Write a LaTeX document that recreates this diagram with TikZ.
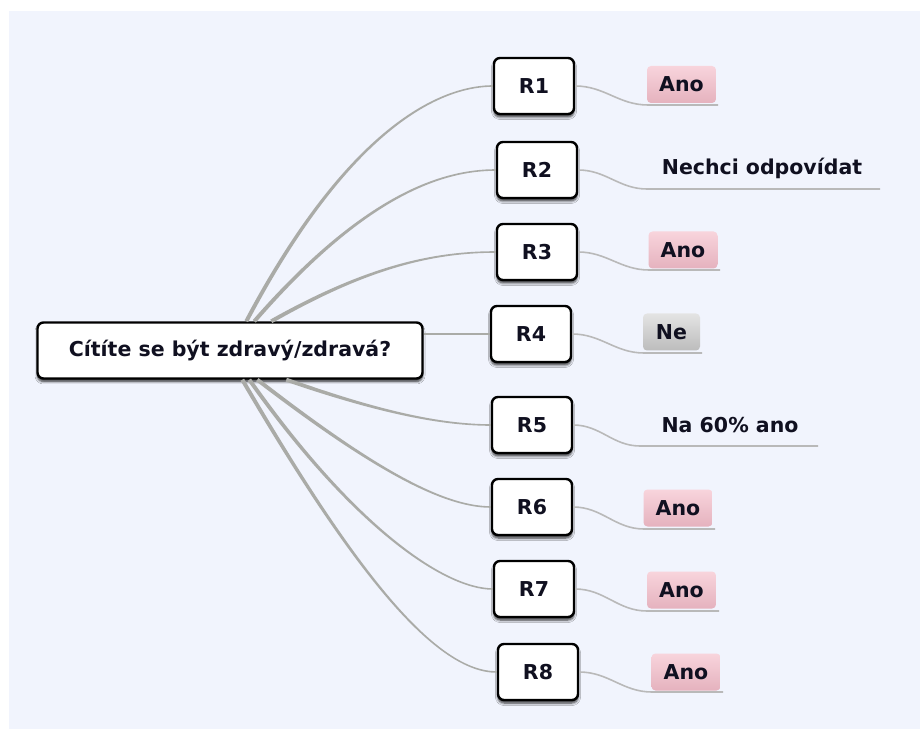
\documentclass[tikz,border=0pt]{standalone}
\usepackage{fontspec}
\setmainfont{DejaVu Sans}
\usetikzlibrary{calc,shadows.blur}

\definecolor{bgcol}{RGB}{241,244,253}
\definecolor{branchcol}{RGB}{170,171,167}
\definecolor{leafcol}{RGB}{185,185,185}
\definecolor{inkcol}{RGB}{16,16,32}
\definecolor{pinktop}{RGB}{248,212,220}
\definecolor{pinkbot}{RGB}{229,178,190}
\definecolor{greytop}{RGB}{228,228,228}
\definecolor{greybot}{RGB}{188,188,188}

\tikzset{
  labelfont/.style={font=\fontsize{20.5}{24}\selectfont\bfseries, text=inkcol},
  topicbox/.style={labelfont, draw=black, fill=white, line width=2.4pt,
    rounded corners=6pt, minimum height=56pt, inner sep=0pt,
    blur shadow={shadow xshift=0pt, shadow yshift=-3pt,
      shadow blur steps=6, shadow blur radius=2.5pt, shadow opacity=80}},
  rootbox/.style={topicbox, minimum width=385pt},
  rbox/.style={topicbox, minimum width=80pt},
  tagbox/.style={labelfont, rounded corners=4pt, minimum height=37pt, inner sep=0pt},
  anobox/.style={tagbox, top color=pinktop, bottom color=pinkbot, minimum width=69pt},
  nebox/.style={tagbox, top color=greytop, bottom color=greybot, minimum width=57pt},
  plainlabel/.style={labelfont},
  leaf/.style={draw=leafcol, line width=1.6pt},
  straightbranch/.style={draw=branchcol, line width=1.8pt},
  branchfill/.style={fill=branchcol},
}

% tapered branch: start coordinate, start angle, two control points, end node
\newcommand\branch[5]{%
  \fill[branchfill]
    ($(#1)+(#2+90:2)$) .. controls ($(#3)+(#2+90:1.5)$) and ($(#4)+(0,0.8)$) .. ($(#5.west)+(0,0.8)$)
    -- ($(#5.west)+(0,-0.8)$) .. controls ($(#4)+(0,-0.8)$) and ($(#3)+(#2-90:1.5)$) .. ($(#1)+(#2-90:2)$)
    -- cycle;}

\begin{document}
\begin{tikzpicture}[x=1pt,y=1pt]
\useasboundingbox (0,0) rectangle (920,729);
\fill[white] (0,0) rectangle (920,729);
\fill[bgcol] (9,0) rectangle (920,718);

% central topic
\node[rootbox] (root) at (230,378.5) {Cítíte se být zdravý/zdravá?};

% respondents
\node[rbox] (R1) at (534,643) {R1};
\node[rbox] (R2) at (537,559) {R2};
\node[rbox] (R3) at (537,477) {R3};
\node[rbox] (R4) at (531,395) {R4};
\node[rbox] (R5) at (532,304) {R5};
\node[rbox] (R6) at (532,222) {R6};
\node[rbox] (R7) at (534,140) {R7};
\node[rbox] (R8) at (538,57) {R8};

% answers
\node[anobox] (A1) at (681.5,644.5) {Ano};
\node[plainlabel] (A2) at (762,561) {Nechci odpovídat};
\node[anobox] (A3) at (683,479) {Ano};
\node[nebox] (A4) at (671.5,397) {Ne};
\node[plainlabel] (A5) at (730,304) {Na 60\% ano};
\node[anobox] (A6) at (678,221) {Ano};
\node[anobox] (A7) at (681.5,139) {Ano};
\node[anobox] (A8) at (686,57) {Ano};

% branch roots on the border of the central topic
\coordinate (s1) at ($(root.north west)+(210,0)$);
\coordinate (s2) at ($(root.north west)+(218,0)$);
\coordinate (s3) at ($(root.north west)+(235,0)$);
\coordinate (s4) at (root.east |- R4.west);
\coordinate (s5) at ($(root.south west)+(250,0)$);
\coordinate (s6) at ($(root.south west)+(221,0)$);
\coordinate (s7) at ($(root.south west)+(213,0)$);
\coordinate (s8) at ($(root.south west)+(206,0)$);

% underline ends of the answers
\coordinate (u1s) at (648,624);  \coordinate (u1e) at (718,624);
\coordinate (u2s) at (647,540);  \coordinate (u2e) at (880,540);
\coordinate (u3s) at (649,459);  \coordinate (u3e) at (720,459);
\coordinate (u4s) at (644,376);  \coordinate (u4e) at (702,376);
\coordinate (u5s) at (640,283);  \coordinate (u5e) at (818,283);
\coordinate (u6s) at (644,200);  \coordinate (u6e) at (715,200);
\coordinate (u7s) at (647,118);  \coordinate (u7e) at (719,118);
\coordinate (u8s) at (652,37);   \coordinate (u8e) at (723,37);

% branches from the central topic to the respondents
\branch{s1}{62}{358,619}{453,643}{R1}
\branch{s2}{49}{365,535}{443,559}{R2}
\branch{s3}{30}{367,462}{433,477}{R3}
\draw[straightbranch] (s4) -- (R4.west);
\branch{s5}{-20}{362,323}{431,304}{R5}
\branch{s6}{-38}{368,264}{441,222}{R6}
\branch{s7}{-55}{353,203}{444,140}{R7}
\branch{s8}{-60}{358,151}{437,57}{R8}

% respondent to answer, ending in an underline
\foreach \i in {1,...,8}{
  \draw[leaf] (R\i.east) to[out=0,in=180] (u\i s) -- (u\i e);
}
\end{tikzpicture}
\end{document}
